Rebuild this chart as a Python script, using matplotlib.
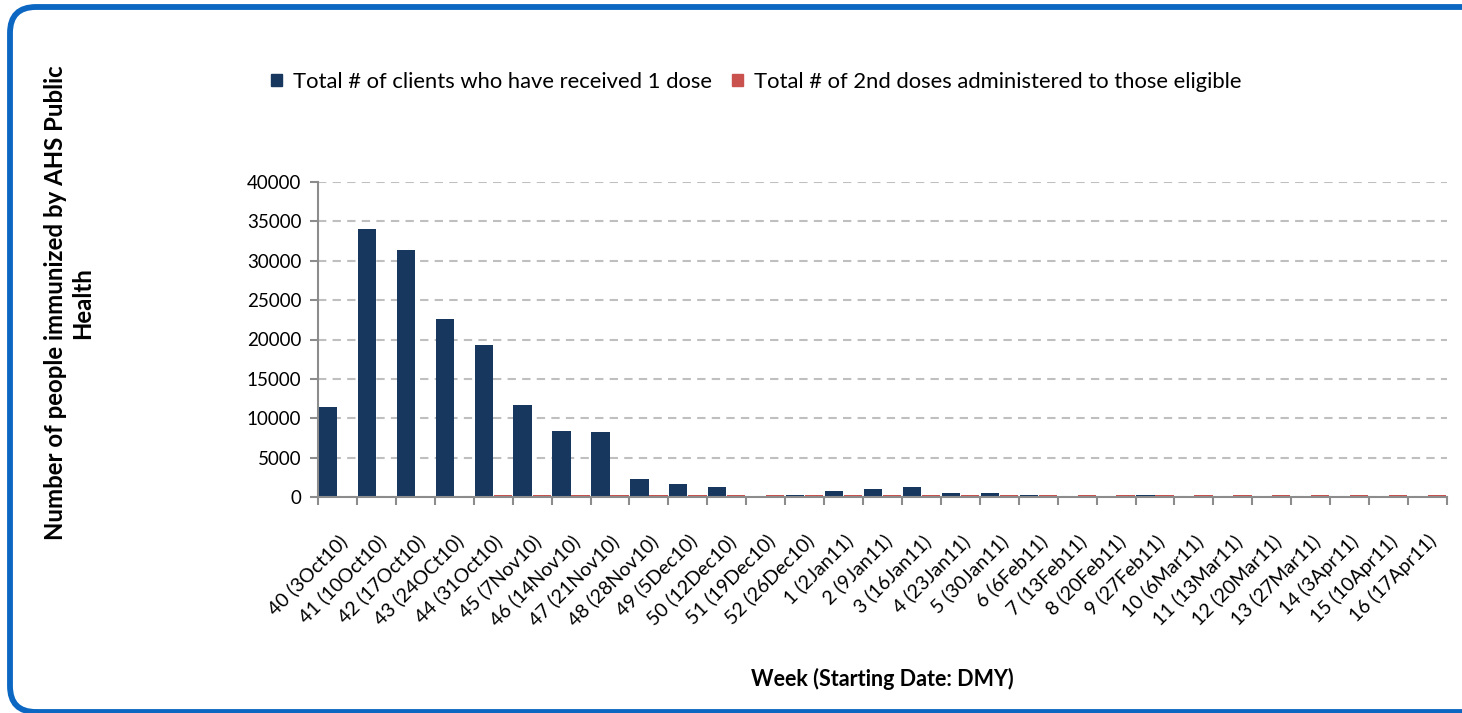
import matplotlib
matplotlib.use("Agg")
import matplotlib.pyplot as plt
from matplotlib.patches import FancyBboxPatch, Patch
from matplotlib.transforms import IdentityTransform
import numpy as np

plt.rcParams['font.family'] = ['Lato', 'DejaVu Sans']

weeks = ["40 (3Oct10)", "41 (10Oct10)", "42 (17Oct10)", "43 (24OCt10)", "44 (31Oct10)",
         "45 (7Nov10)", "46 (14Nov10)", "47 (21Nov10)", "48 (28Nov10)", "49 (5Dec10)",
         "50 (12Dec10)", "51 (19Dec10)", "52 (26Dec10)", "1 (2Jan11)", "2 (9Jan11)",
         "3 (16Jan11)", "4 (23Jan11)", "5 (30Jan11)", "6 (6Feb11)", "7 (13Feb11)",
         "8 (20Feb11)", "9 (27Feb11)", "10 (6Mar11)", "11 (13Mar11)", "12 (20Mar11)",
         "13 (27Mar11)", "14 (3Apr11)", "15 (10Apr11)", "16 (17Apr11)"]
first_dose = [11400, 34000, 31400, 22600, 19300, 11700, 8400, 8200, 2300, 1600,
              1300, 0, 300, 800, 1000, 1300, 550, 500, 250, 0,
              0, 250, 0, 0, 0, 0, 0, 0, 0]
second_dose = [0, 0, 0, 0, 300, 300, 300, 300, 300, 300,
               300, 300, 300, 300, 300, 300, 300, 300, 300, 300,
               300, 300, 300, 300, 300, 300, 300, 300, 300]
yticks = [0, 5000, 10000, 15000, 20000, 25000, 30000, 35000, 40000]

c_blue = '#17375E'
c_red = '#C9514E'

W, H = 1462, 713
fig = plt.figure(figsize=(W / 100, H / 100), dpi=100)

ax = fig.add_axes([318 / W, 1 - 497 / H, (1447 - 318) / W, (497 - 182) / H])
x = np.arange(len(weeks))
bw = 0.47
ax.bar(x - bw / 2 - 0.01, first_dose, width=bw, color=c_blue, zorder=3)
ax.bar(x + bw / 2 + 0.01, second_dose, width=bw, color=c_red, zorder=3)

ax.set_xlim(-0.5, len(weeks) - 0.5)
ax.set_ylim(0, 40000)
ax.set_yticks(yticks)
ax.set_yticklabels([str(v) for v in yticks], fontsize=13.5)
ax.set_xticks(x)
ax.set_xticklabels(weeks, rotation=45, ha='right', va='top', rotation_mode='anchor', fontsize=14)
ax.set_xticks(np.arange(-0.5, len(weeks)), minor=True)
ax.tick_params(axis='x', which='major', length=0, pad=25)
ax.tick_params(axis='x', which='minor', length=6, color='#8c8c8c', width=1.5)
ax.tick_params(axis='y', length=6, color='#8c8c8c', width=1.5, pad=6)

ax.yaxis.grid(True, linestyle=(0, (4, 3)), color='#bfbfbf', linewidth=1.5, zorder=0)
for s in ['top', 'right']:
    ax.spines[s].set_visible(False)
for s in ['left', 'bottom']:
    ax.spines[s].set_color('#8c8c8c')
    ax.spines[s].set_linewidth(1.5)
ax.spines['bottom'].set_zorder(4)

ax.set_xlabel('Week (Starting Date: DMY)', fontsize=15.5, fontweight='bold', labelpad=28)

fig.text(69 / W, 1 - 303 / H, 'Number of people immunized by AHS Public\nHealth',
         rotation=90, ha='center', va='center', multialignment='center',
         fontsize=17.3, fontweight='bold', linespacing=1.25)

handles = [Patch(color=c_blue), Patch(color=c_red)]
fig.legend(handles, ['Total # of clients who have received 1 dose',
                     'Total # of 2nd doses administered to those eligible'],
           loc='center', bbox_to_anchor=(756 / W, 1 - 82 / H), ncol=2, frameon=False,
           fontsize=15.8, handlelength=0.5, handleheight=0.5, handletextpad=0.5,
           columnspacing=0.9)

border = FancyBboxPatch((10, 1), 1520 - 10, 706 - 1,
                        boxstyle='round,pad=0,rounding_size=26',
                        transform=IdentityTransform(), facecolor='none',
                        edgecolor='#0B67C2', linewidth=4.2)
fig.add_artist(border)

fig.savefig('out.png', dpi=100)
